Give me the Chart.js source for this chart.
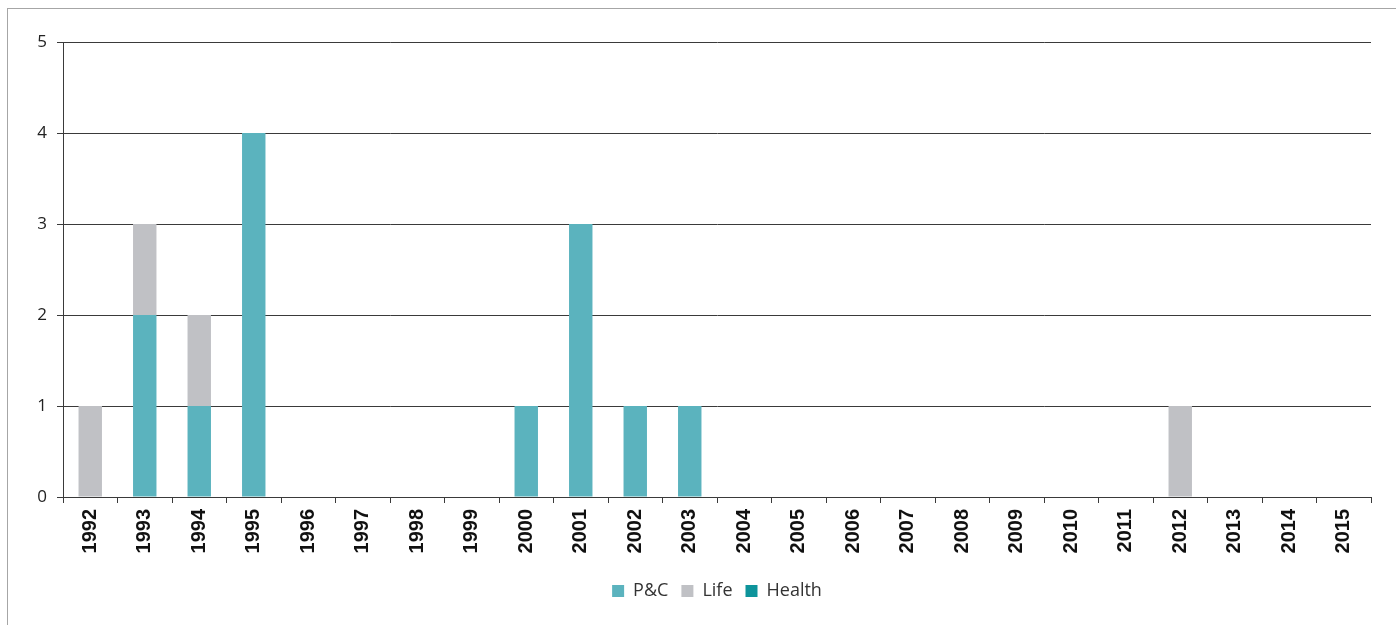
<!DOCTYPE html>
<html>
<head>
<meta charset="utf-8">
<script src="https://cdn.jsdelivr.net/npm/chart.js@4.4.1/dist/chart.umd.min.js"></script>
<style>
  html, body { margin: 0; padding: 0; background: #fff; overflow: hidden; }
  #wrap { position: relative; width: 1396px; height: 625px; }
  #frame { position: absolute; left: 7px; top: 8px; width: 1500px; height: 700px; border: 1px solid #a6a6a6; box-sizing: border-box; }
  canvas { position: absolute; left: 0; top: 0; }
</style>
</head>
<body>
<div id="wrap">
  <div id="frame"></div>
  <canvas id="c" width="1396" height="625"></canvas>
</div>
<script>
const years = ["1992","1993","1994","1995","1996","1997","1998","1999","2000","2001","2002","2003","2004","2005","2006","2007","2008","2009","2010","2011","2012","2013","2014","2015"];
const pc     = [0,2,1,4,0,0,0,0,1,3,1,1,0,0,0,0,0,0,0,0,0,0,0,0];
const life   = [1,1,1,0,0,0,0,0,0,0,0,0,0,0,0,0,0,0,0,0,1,0,0,0];
const health = [0,0,0,0,0,0,0,0,0,0,0,0,0,0,0,0,0,0,0,0,0,0,0,0];
const yTicks = [0,1,2,3,4,5];

const axisColor = '#3a3a3a';
new Chart(document.getElementById('c'), {
  type: 'bar',
  data: {
    labels: years,
    datasets: [
      { label: 'P&C', data: pc, backgroundColor: '#5bb3be', borderWidth: 0 },
      { label: 'Life', data: life, backgroundColor: '#c0c1c5', borderWidth: 0 },
      { label: 'Health', data: health, backgroundColor: '#0e949b', borderWidth: 0 }
    ]
  },
  options: {
    responsive: false,
    animation: false,
    devicePixelRatio: 1,
    datasets: { bar: { barPercentage: 0.43, categoryPercentage: 1.0 } },
    layout: { padding: { top: 42, left: 0, right: 25, bottom: 15 } },
    plugins: {
      tooltip: { enabled: false },
      legend: {
        position: 'bottom',
        fullSize: false,
        labels: {
          boxWidth: 12, boxHeight: 12, padding: 13,
          color: '#333',
          font: { family: '"Open Sans", "Noto Sans", sans-serif', size: 18 }
        }
      }
    },
    scales: {
      x: {
        stacked: true,
        grid: { display: true, drawOnChartArea: false, drawTicks: true, tickLength: 6, color: axisColor, offset: true },
        border: { display: true, color: axisColor, width: 1 },
        ticks: {
          autoSkip: false, maxRotation: 90, minRotation: 90, padding: 6,
          color: '#111',
          font: { family: '"Liberation Sans", Arial, sans-serif', size: 20, weight: 'bold' }
        },
        afterFit: s => { s.height = 72; }
      },
      y: {
        stacked: true,
        min: 0, max: 5,
        afterBuildTicks: s => { s.ticks = yTicks.map(v => ({ value: v })); },
        grid: { color: axisColor, tickLength: 6, lineWidth: 1 },
        border: { display: true, color: axisColor, width: 1 },
        ticks: {
          padding: 10, color: '#222',
          font: { family: '"Open Sans", "Noto Sans", sans-serif', size: 17 }
        },
        afterFit: s => { s.width = 63; }
      }
    }
  }
});
</script>
</body>
</html>
